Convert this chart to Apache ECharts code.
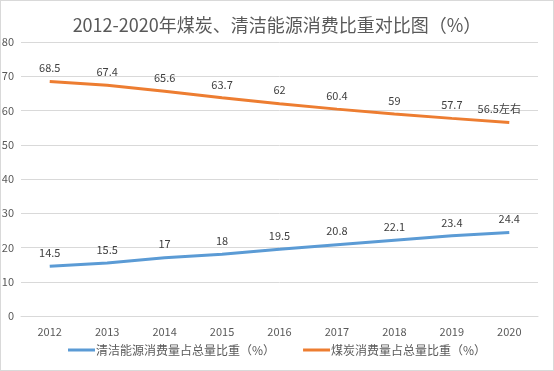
<!DOCTYPE html>
<html><head><meta charset="utf-8">
<script src="https://cdn.jsdelivr.net/npm/echarts@6/dist/echarts.min.js"></script>
<style>html,body{margin:0;padding:0;background:#fff}#c{width:552px;height:369px;border:1px solid #d9d9d9}</style>
</head><body><div id="c"></div>
<script>
const years = ['2012','2013','2014','2015','2016','2017','2018','2019','2020'];
const cleanShare = [14.5,15.5,17,18,19.5,20.8,22.1,23.4,24.4];
const coalShare = [68.5,67.4,65.6,63.7,62,60.4,59,57.7,56.5];
const coalLabels = ['68.5','67.4','65.6','63.7','62','60.4','59','57.7','56.5左右'];
const yTicks = {min:0,max:80,interval:10};
const font = '"Microsoft YaHei","Noto Sans CJK SC",sans-serif';
const chart = echarts.init(document.getElementById('c'));
chart.setOption({
  animation:false,
  title:{text:'2012-2020年煤炭、清洁能源消费比重对比图（%）',left:'center',top:10,
    textStyle:{fontSize:18,fontWeight:'normal',color:'#595959',fontFamily:font}},
  legend:{top:338,left:62,itemWidth:27,itemHeight:3,itemGap:28,icon:'rect',
    textStyle:{fontSize:12,color:'#595959',fontFamily:font,padding:[0,0,0,-4]}},
  grid:{left:20,right:15,top:41,bottom:54,containLabel:false,outerBoundsMode:'none'},
  xAxis:{type:'category',data:years,boundaryGap:true,
    axisLine:{show:true,lineStyle:{color:'#d9d9d9'}},axisTick:{show:false},
    axisLabel:{color:'#595959',fontSize:11,margin:10,fontFamily:font}},
  yAxis:{type:'value',min:yTicks.min,max:yTicks.max,interval:yTicks.interval,
    axisLine:{show:false},axisTick:{show:false},
    splitLine:{lineStyle:{color:'#d9d9d9'}},
    axisLabel:{color:'#595959',fontSize:11,margin:7,fontFamily:font}},
  series:[
    {name:'清洁能源消费量占总量比重（%）',type:'line',data:cleanShare,symbol:'circle',symbolSize:0.001,showSymbol:true,
     lineStyle:{width:3,color:'#5B9BD5'},itemStyle:{color:'#5B9BD5'},
     label:{show:true,position:'top',distance:8,color:'#404040',fontSize:11,fontFamily:font}},
    {name:'煤炭消费量占总量比重（%）',type:'line',data:coalShare,symbol:'circle',symbolSize:0.001,showSymbol:true,
     lineStyle:{width:3,color:'#ED7D31'},itemStyle:{color:'#ED7D31'},
     label:{show:true,position:'top',distance:8,color:'#404040',fontSize:11,fontFamily:font,
       formatter:p=>coalLabels[p.dataIndex]},
     labelLayout:p=>p.dataIndex===8?{dx:-10}:{}}
  ]
});
</script></body></html>
